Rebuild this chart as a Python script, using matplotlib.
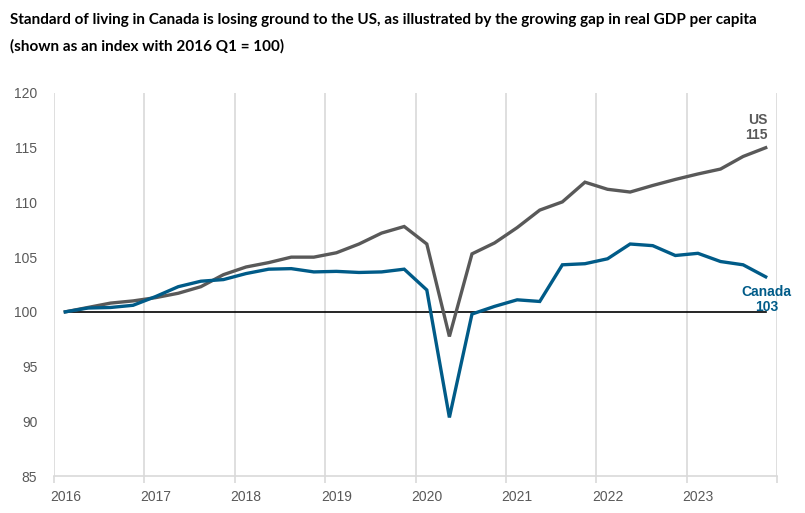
import matplotlib
matplotlib.use("Agg")
import matplotlib.pyplot as plt
import numpy as np

TITLE = "Standard of living in Canada is losing ground to the US, as illustrated by the growing gap in real GDP per capita"
SUBTITLE = "(shown as an index with 2016 Q1 = 100)"

years = ["2016", "2017", "2018", "2019", "2020", "2021", "2022", "2023"]

# quarterly index, 2016 Q1 .. 2023 Q4
us = [100.0, 100.4, 100.8, 101.0, 101.3, 101.7, 102.3, 103.4,
      104.1, 104.5, 105.0, 105.0, 105.4, 106.2, 107.2, 107.8,
      106.2, 97.75, 105.3, 106.3, 107.7, 109.3, 110.05, 111.85,
      111.2, 110.95, 111.55, 112.1, 112.6, 113.05, 114.2, 115.0]
canada = [100.0, 100.35, 100.4, 100.6, 101.4, 102.3, 102.8, 102.95,
          103.5, 103.9, 103.95, 103.65, 103.7, 103.6, 103.65, 103.9,
          102.0, 90.35, 99.8, 100.5, 101.1, 100.95, 104.3, 104.4,
          104.85, 106.2, 106.05, 105.15, 105.35, 104.6, 104.3, 103.2]

US_COLOR = "#595959"
CA_COLOR = "#005b88"
GRID = "#d9d9d9"
TICK = "#595959"
NARROW = ["Liberation Sans Narrow", "Liberation Sans", "DejaVu Sans"]

fig = plt.figure(figsize=(8.05, 5.13), dpi=100)
ax = fig.add_axes([54 / 805, 37 / 513, 723 / 805, 383 / 513])

x = np.arange(len(us))
ax.plot(x, np.full(len(x), 100.0), color="black", lw=1.2, zorder=2)
ax.plot(x, us, color=US_COLOR, lw=2.4, zorder=3, solid_joinstyle="miter")
ax.plot(x, canada, color=CA_COLOR, lw=2.4, zorder=4, solid_joinstyle="miter")

ax.set_xlim(-0.5, len(us) - 0.5)
ax.set_ylim(85, 120)
ax.set_yticks(np.arange(85, 121, 5))

bounds = np.arange(-0.5, len(us), 4)
for b in bounds:
    ax.axvline(b, color=GRID, lw=1.2, zorder=0)
ax.set_xticks(bounds, minor=True)
ax.set_xticks(np.arange(0, len(us), 4))
ax.set_xticklabels(years)
ax.tick_params(axis="x", which="major", length=0, pad=10, labelsize=10, labelcolor=TICK)
ax.tick_params(axis="x", which="minor", length=5, width=1.2, color=GRID)
ax.tick_params(axis="y", length=0, pad=12, labelsize=10, labelcolor=TICK)
for lbl in ax.get_xticklabels() + ax.get_yticklabels():
    lbl.set_family(NARROW)

for s in ["top", "right", "left"]:
    ax.spines[s].set_visible(False)
ax.spines["bottom"].set_color(GRID)
ax.spines["bottom"].set_linewidth(1.2)

ax.text(len(us) - 1 + 0.1, us[-1] + 0.5, "US\n%d" % round(us[-1]), ha="right", va="bottom",
        color=US_COLOR, fontsize=10, fontweight="bold", linespacing=1.15, family=NARROW)
ax.text(len(us) - 1 + 0.05, canada[-1] - 0.7, "Canada\n%d" % round(canada[-1]), ha="center", va="top",
        color=CA_COLOR, fontsize=10, fontweight="bold", linespacing=1.15, family=NARROW)

fig.text(10 / 805, 1 - 20 / 513, TITLE, ha="left", va="center", fontsize=11,
         fontweight="bold", color="black", family=["Lato", "DejaVu Sans"])
fig.text(10 / 805, 1 - 46 / 513, SUBTITLE, ha="left", va="center", fontsize=11,
         fontweight="bold", color="black", family=["Lato", "DejaVu Sans"])

fig.savefig("out.png", dpi=100)
